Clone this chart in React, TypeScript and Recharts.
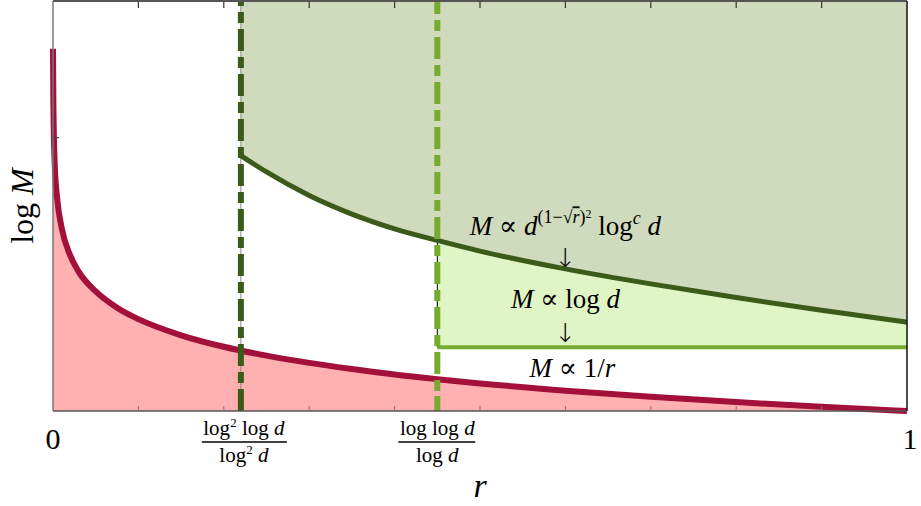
import React from "react";
import {
  ComposedChart,
  Area,
  Line,
  XAxis,
  YAxis,
  ReferenceLine,
  ReferenceDot,
} from "recharts";

const FONT = "'Liberation Serif', 'DejaVu Serif', serif";

// red curve: log M for M ∝ 1/r
const redR = [0, 0.0005, 0.001, 0.002, 0.005, 0.01, 0.02, 0.03, 0.05, 0.075, 0.1, 0.15, 0.2, 0.25, 0.3, 0.35, 0.4, 0.45, 0.5, 0.6, 0.7, 0.8, 0.9, 1];
const redLogM = [2.65, 2.22, 2.02, 1.81, 1.55, 1.345, 1.14, 1.02, 0.875, 0.756, 0.672, 0.554, 0.47, 0.405, 0.352, 0.307, 0.267, 0.233, 0.202, 0.149, 0.104, 0.065, 0.031, 0];

// dark green curve: M ∝ d^{(1-√r)^2} log^c d
const greenR = [0.22, 0.25, 0.3, 0.35, 0.4, 0.45, 0.5, 0.6, 0.7, 0.8, 0.9, 1];
const greenLogM = [1.869, 1.749, 1.577, 1.441, 1.333, 1.248, 1.17, 1.04, 0.93, 0.83, 0.737, 0.65];

// light green floor: M ∝ log d
const floorR = [0.45, 1];
const floorLogM = 0.467;

const yTop = 3;
const tenthTicks = [0, 0.1, 0.2, 0.3, 0.4, 0.5, 0.6, 0.7, 0.8, 0.9, 1];
const innerTenths = tenthTicks.filter((v) => v !== 0 && v !== 1);
const thresholdLow = 0.22;
const thresholdHigh = 0.45;
const bottomTicks = [0, 0.1, 0.2, 0.22, 0.3, 0.4, 0.45, 0.5, 0.6, 0.7, 0.8, 0.9, 1];

const redData = redR.map((r, i) => ({ r, v: redLogM[i] }));
const greenData = greenR.map((r, i) => ({ r, v: greenLogM[i] }));
const upperData = greenR.map((r, i) => ({ r, band: [greenLogM[i], yTop] }));
const lowerData = greenR
  .map((r, i) => ({ r, band: [floorLogM, greenLogM[i]] }))
  .filter((d) => d.r >= thresholdHigh);
const floorData = floorR.map((r) => ({ r, v: floorLogM }));
const floorTop = greenLogM[greenR.indexOf(thresholdHigh)];

const isTenth = (v: number) => tenthTicks.includes(v);

function BottomTick(props: any) {
  const { x, y, payload } = props;
  const v = payload.value;
  return (
    <g>
      {isTenth(v) && v !== 0 && v !== 1 && (
        <line x1={x} x2={x} y1={y} y2={y - 5} stroke="#777" strokeWidth={1} />
      )}
      {v === 0 && (
        <text x={x} y={y + 38} textAnchor="middle" fontFamily={FONT} fontSize={30}>0</text>
      )}
      {v === 1 && (
        <text x={x + 3} y={y + 38} textAnchor="middle" fontFamily={FONT} fontSize={30}>1</text>
      )}
      {v === thresholdLow && (
        <g fontFamily={FONT} fontSize={21} textAnchor="middle">
          <text x={x + 3} y={y + 24}>
            log<tspan fontSize={13} dy={-8}>2</tspan>
            <tspan dy={8}> log </tspan>
            <tspan fontStyle="italic">d</tspan>
          </text>
          <line x1={x - 39} x2={x + 46} y1={y + 31} y2={y + 31} stroke="#000" strokeWidth={1.6} />
          <text x={x + 3} y={y + 51}>
            log<tspan fontSize={13} dy={-8}>2</tspan>
            <tspan dy={8}> </tspan>
            <tspan fontStyle="italic">d</tspan>
          </text>
        </g>
      )}
      {v === thresholdHigh && (
        <g fontFamily={FONT} fontSize={21} textAnchor="middle">
          <text x={x} y={y + 24}>
            log log <tspan fontStyle="italic">d</tspan>
          </text>
          <line x1={x - 39} x2={x + 38} y1={y + 31} y2={y + 31} stroke="#000" strokeWidth={1.6} />
          <text x={x} y={y + 51}>
            log <tspan fontStyle="italic">d</tspan>
          </text>
        </g>
      )}
    </g>
  );
}

function LeftTick(props: any) {
  const { x, y, payload } = props;
  if (payload.value === 0 || payload.value === yTop) return <g />;
  return <line x1={x} x2={x + 6} y1={y} y2={y} stroke="#444" strokeWidth={1.2} />;
}

function anno(kind: string) {
  return (p: any) => {
    const vb = p.viewBox || {};
    const cx = vb.x + (vb.width || 0) / 2;
    const cy = vb.y + (vb.height || 0) / 2;
    if (kind === "arrow") {
      return (
        <text x={cx} y={cy + 9} textAnchor="middle" fontFamily="'DejaVu Sans', sans-serif" fontWeight={200} fontSize={26}>↓</text>
      );
    }
    if (kind === "main") {
      return (
        <text x={cx} y={cy} textAnchor="middle" fontFamily={FONT} fontSize={27}>
          <tspan fontStyle="italic">M</tspan>
          <tspan>{" ∝ "}</tspan>
          <tspan fontStyle="italic">d</tspan>
          <tspan fontSize={18} dy={-12}>(1−√</tspan>
          <tspan fontSize={18} fontStyle="italic" textDecoration="overline">r</tspan>
          <tspan fontSize={18}>)</tspan>
          <tspan fontSize={12} dy={-5}>2</tspan>
          <tspan dy={17}>{" log"}</tspan>
          <tspan fontSize={18} fontStyle="italic" dy={-11}>c</tspan>
          <tspan dy={11}>{" "}</tspan>
          <tspan fontStyle="italic">d</tspan>
        </text>
      );
    }
    if (kind === "log") {
      return (
        <text x={cx} y={cy} textAnchor="middle" fontFamily={FONT} fontSize={27}>
          <tspan fontStyle="italic">M</tspan>
          <tspan>{" ∝ log "}</tspan>
          <tspan fontStyle="italic">d</tspan>
        </text>
      );
    }
    return (
      <text x={cx + 7} y={cy} textAnchor="middle" fontFamily={FONT} fontSize={27}>
        <tspan fontStyle="italic">M</tspan>
        <tspan>{" ∝ 1/"}</tspan>
        <tspan fontStyle="italic">r</tspan>
      </text>
    );
  };
}

function TopTickMark(props: any) {
  const { x1, y1, y2 } = props;
  if (x1 === undefined || Number.isNaN(x1)) return <g />;
  const top = Math.min(y1, y2);
  return <line x1={x1} x2={x1} y1={top} y2={top + 7} stroke="#333" strokeWidth={1.2} />;
}

export default function App() {
  return (
    <div style={{ position: "absolute", left: 0, top: 0, width: 921, height: 506, background: "#fff" }}>
      <ComposedChart width={921} height={506} margin={{ top: 0, right: 13, bottom: 0, left: 0 }}>
        <XAxis
          xAxisId="b"
          dataKey="r"
          type="number"
          domain={[0, 1]}
          ticks={bottomTicks}
          interval={0}
          tick={<BottomTick />}
          tickLine={false}
          tickSize={0}
          tickMargin={0}
          height={95}
          axisLine={{ stroke: "#555", strokeWidth: 1.5 }}
          label={(p: any) => {
            const vb = p.viewBox || {};
            return (
              <text x={vb.x + vb.width / 2} y={vb.y + 86} textAnchor="middle" fontFamily={FONT} fontSize={34} fontStyle="italic">r</text>
            );
          }}
        />
        <XAxis
          xAxisId="t"
          dataKey="r"
          orientation="top"
          type="number"
          domain={[0, 1]}
          tick={false}
          tickLine={false}
          height={1}
          axisLine={{ stroke: "#555", strokeWidth: 2 }}
        />
        <YAxis
          yAxisId="l"
          type="number"
          domain={[0, yTop]}
          ticks={[0, 2, yTop]}
          interval={0}
          tick={<LeftTick />}
          tickLine={false}
          tickSize={0}
          tickMargin={0}
          width={53}
          axisLine={{ stroke: "#777", strokeWidth: 1.5 }}
          label={(p: any) => {
            const vb = p.viewBox || {};
            const cy = vb.y + vb.height / 2;
            return (
              <text x={33} y={cy} transform={`rotate(-90 33 ${cy})`} textAnchor="middle" fontFamily={FONT} fontSize={32}>
                log <tspan fontStyle="italic">M</tspan>
              </text>
            );
          }}
        />
        <YAxis
          yAxisId="r"
          orientation="right"
          type="number"
          domain={[0, yTop]}
          tick={false}
          tickLine={false}
          width={1}
          axisLine={{ stroke: "#111", strokeWidth: 1.5 }}
        />

        <Area
          xAxisId="b"
          yAxisId="l"
          data={upperData}
          dataKey="band"
          type="monotone"
          stroke="none"
          fill="#cfdbbc"
          fillOpacity={1}
          isAnimationActive={false}
        />
        <Area
          xAxisId="b"
          yAxisId="l"
          data={lowerData}
          dataKey="band"
          type="monotone"
          stroke="none"
          fill="#e0f5c6"
          fillOpacity={1}
          isAnimationActive={false}
        />
        <Area
          xAxisId="b"
          yAxisId="l"
          data={redData}
          dataKey="v"
          type="monotone"
          stroke="none"
          fill="#ffb1b1"
          fillOpacity={1}
          isAnimationActive={false}
        />

        {innerTenths.map((v) => (
          <ReferenceLine
            key={`tt${v}`}
            xAxisId="b"
            yAxisId="l"
            x={v}
            ifOverflow="visible"
            stroke="none"
            shape={<TopTickMark />}
          />
        ))}

        <ReferenceLine xAxisId="b" yAxisId="l" x={thresholdLow} stroke="#888" strokeWidth={1} />
        <ReferenceLine
          xAxisId="b"
          yAxisId="l"
          segment={[{ x: thresholdHigh, y: floorLogM }, { x: thresholdHigh, y: floorTop }]}
          stroke="#000"
          strokeWidth={1}
        />

        <Line
          xAxisId="b"
          yAxisId="l"
          data={greenData}
          dataKey="v"
          type="monotone"
          stroke="#3c5a1a"
          strokeWidth={5}
          dot={false}
          isAnimationActive={false}
        />
        <Line
          xAxisId="t"
          yAxisId="l"
          data={floorData}
          dataKey="v"
          type="linear"
          stroke="#77ab2f"
          strokeWidth={4}
          dot={false}
          isAnimationActive={false}
        />
        <Line
          xAxisId="b"
          yAxisId="l"
          data={redData}
          dataKey="v"
          type="monotone"
          stroke="#a3113a"
          strokeWidth={6}
          dot={false}
          isAnimationActive={false}
        />

        <ReferenceLine
          xAxisId="b"
          yAxisId="l"
          x={thresholdLow}
          stroke="#3c5a1a"
          strokeWidth={6}
          strokeDasharray="22 6 11 6"
        />
        <ReferenceLine
          xAxisId="b"
          yAxisId="l"
          x={thresholdHigh}
          stroke="#77ab2f"
          strokeWidth={6}
          strokeDasharray="15 5 11 6 22 6 11 6 22 6 11 6 22 6 11 6 22 6 11 6 22 6 11 6 22 6 11 6 22 6 11 6 22 6 11 6 22 6 11 6 22 6 11 6 22 6 11 6 22 6 11 6 22 6 11 6 22 6 11 6"
        />

        <ReferenceDot xAxisId="b" yAxisId="l" x={0.6} y={1.285} r={1} fill="none" stroke="none" label={anno("main")} />
        <ReferenceDot xAxisId="b" yAxisId="l" x={0.6} y={1.117} r={1} fill="none" stroke="none" label={anno("arrow")} />
        <ReferenceDot xAxisId="b" yAxisId="l" x={0.6} y={0.752} r={1} fill="none" stroke="none" label={anno("log")} />
        <ReferenceDot xAxisId="b" yAxisId="l" x={0.6} y={0.569} r={1} fill="none" stroke="none" label={anno("arrow")} />
        <ReferenceDot xAxisId="b" yAxisId="l" x={0.6} y={0.248} r={1} fill="none" stroke="none" label={anno("inv")} />
      </ComposedChart>
    </div>
  );
}
